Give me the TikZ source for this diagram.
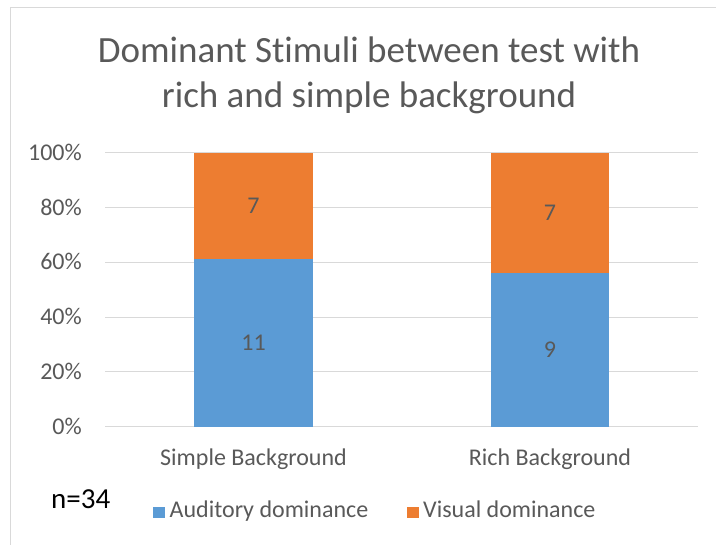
\documentclass[tikz,border=0pt]{standalone}
\usepackage{fontspec}
\setmainfont[Ligatures=NoCommon]{Carlito}
\definecolor{txtgray}{HTML}{595959}
\definecolor{gridgray}{HTML}{D9D9D9}
\definecolor{audblue}{HTML}{5B9BD5}
\definecolor{visorange}{HTML}{ED7D31}
\tikzset{
  gridline/.style={draw=gridgray, line width=1.1pt},
  frameline/.style={draw=gridgray, line width=1.2pt},
  titletext/.style={inner sep=0pt, text=txtgray, font=\fontsize{37}{45}\selectfont},
  ticktext/.style={inner sep=0pt, text=txtgray, font=\fontsize{24}{29}\selectfont},
  datatext/.style={inner sep=0pt, text=txtgray, font=\fontsize{24}{29}\selectfont},
  legendtext/.style={inner sep=0pt, text=txtgray, font=\fontsize{24}{29}\selectfont},
  blueseg/.style={fill=audblue, draw=none},
  orangeseg/.style={fill=visorange, draw=none},
}
\begin{document}
\begin{tikzpicture}[x=1pt,y=-1pt]
\useasboundingbox[fill=white] (0,0) rectangle (716,545);
% chart frame (top and left edges visible)
\draw[frameline] (10.5,545) -- (10.5,7.5) -- (716,7.5);
% title
\node[titletext, anchor=base] (title1) at (369,63) {Dominant Stimuli between test with};
\node[titletext, anchor=base] (title2) at (369,108) {rich and simple background};
% gridlines and tick labels
\foreach \v/\lab in {0/0\%,20/20\%,40/40\%,60/60\%,80/80\%,100/100\%}{
  \pgfmathsetmacro{\yy}{426.7-2.74*\v}
  \draw[gridline] (105,\yy) -- (698,\yy);
  \node[ticktext, anchor=base east] (tick\v) at (82,\yy+7.6) {\lab};
}
% bars: Simple Background (11 / 7), Rich Background (9 / 7)
\fill[blueseg] (194,426.7) rectangle (313,259.3);
\fill[orangeseg] (194,259.3) rectangle (313,152.7);
\fill[blueseg] (491,426.7) rectangle (609,272.6);
\fill[orangeseg] (491,272.6) rectangle (609,152.7);
% data labels
\node[datatext] (simpleA) at (253.5,343) {11};
\node[datatext] (simpleV) at (253.5,206) {7};
\node[datatext] (richA) at (550,349.6) {9};
\node[datatext] (richV) at (550,212.6) {7};
% category labels
\node[ticktext, anchor=base] (catsimple) at (253.5,466) {Simple Background};
\node[ticktext, anchor=base] (catrich) at (550,466) {Rich Background};
% n and legend
\node[inner sep=0pt, anchor=base west, text=black, font=\fontsize{29}{35}\selectfont] (nlabel) at (51,509) {n=34};
\fill[audblue] (153,507) rectangle (165,518.5);
\node[legendtext, anchor=base west] (legaud) at (169.5,518) {Auditory dominance};
\fill[visorange] (406.5,507) rectangle (418.5,518.5);
\node[legendtext, anchor=base west] (legvis) at (423,518) {Visual dominance};
\end{tikzpicture}
\end{document}
